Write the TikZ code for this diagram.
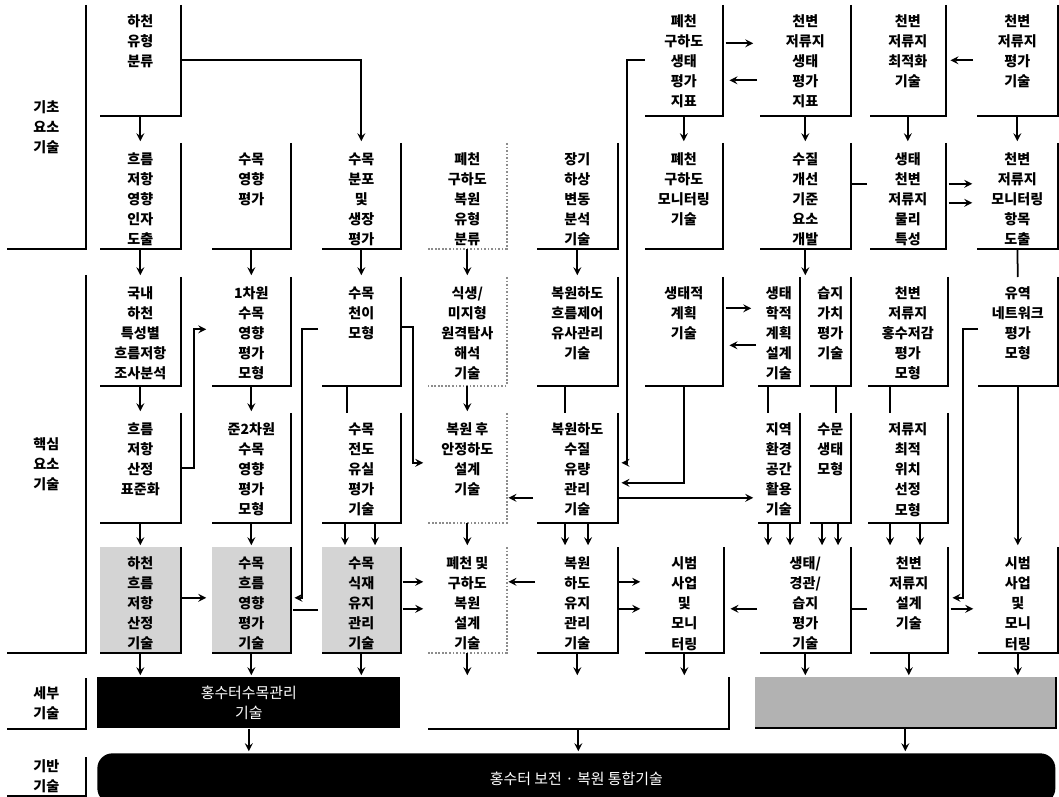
\documentclass[tikz,border=0pt]{standalone}
\usepackage{fontspec}
\newfontfamily\kfont{Noto Sans CJK KR}
\usetikzlibrary{calc}
\newlength{\pxu}\setlength{\pxu}{0.02cm}
% top aligned text in a fixed box (sizes in pixels)
\newcommand{\cell}[3]{\parbox[t][#2\pxu][t]{#1\pxu}{\centering\vspace*{5.5pt}#3}}

\begin{document}
\begin{tikzpicture}[x=0.02cm, y=-0.02cm, >=stealth,
  box/.style={inner sep=0pt, anchor=north west, font=\kfont\bfseries\fontsize{8}{11.4}\selectfont},
  lab/.style={inner sep=0pt, anchor=north west, align=center, font=\kfont\bfseries\fontsize{8}{11.4}\selectfont},
  dark/.style={inner sep=0pt, anchor=north west, align=center, fill=black, text=white, font=\kfont\fontsize{8.5}{11.4}\selectfont},
  tint/.style={fill=black!17},
  edge/.style={line width=1.1pt},
  faint/.style={line width=1pt, black!45, densely dotted},
  arr/.style={->, line width=1pt, shorten >=1pt},
  ln/.style={line width=1pt}]
  \useasboundingbox (0,0) rectangle (1059,797);

  % level labels
  \node[lab, minimum width=78\pxu, minimum height=243\pxu] (lab1) at (7,5) {기초\\요소\\기술};
  \node[lab, minimum width=78\pxu, minimum height=377\pxu] (lab2) at (7,275) {핵심\\요소\\기술};
  \node[lab, minimum width=78\pxu, minimum height=50\pxu] (lab3) at (7,678) {세부\\기술};
  \node[lab, minimum width=78\pxu, minimum height=38\pxu] (lab4) at (7,757) {기반\\기술};

  % row 0
  \node[box] (r0c1) at (100,5) {\cell{80}{110}{하천\\유형\\분류}};
  \node[box] (r0c6) at (645,5) {\cell{77}{110}{폐천\\구하도\\생태\\평가\\지표}};
  \node[box] (r0c7) at (760,5) {\cell{90}{110}{천변\\저류지\\생태\\평가\\지표}};
  \node[box] (r0c8) at (870,5) {\cell{75}{110}{천변\\저류지\\최적화\\기술}};
  \node[box] (r0c9) at (977,5) {\cell{80}{110}{천변\\저류지\\평가\\기술}};

  % row 1
  \node[box] (r1c1) at (100,143) {\cell{80}{105}{흐름\\저항\\영향\\인자\\도출}};
  \node[box] (r1c2) at (212,143) {\cell{78}{105}{수목\\영향\\평가}};
  \node[box] (r1c3) at (322,143) {\cell{78}{105}{수목\\분포\\및\\생장\\평가}};
  \node[box] (r1c4) at (428,143) {\cell{78}{105}{폐천\\구하도\\복원\\유형\\분류}};
  \node[box] (r1c5) at (537,143) {\cell{80}{105}{장기\\하상\\변동\\분석\\기술}};
  \node[box] (r1c6) at (645,143) {\cell{77}{105}{폐천\\구하도\\모니터링\\기술}};
  \node[box] (r1c7) at (760,143) {\cell{90}{105}{수질\\개선\\기준\\요소\\개발}};
  \node[box] (r1c8) at (870,143) {\cell{75}{105}{생태\\천변\\저류지\\물리\\특성}};
  \node[box] (r1c9) at (977,143) {\cell{80}{105}{천변\\저류지\\모니터링\\항목\\도출}};

  % row 2
  \node[box] (r2c1) at (100,277) {\cell{80}{108}{국내\\하천\\특성별\\흐름저항\\조사분석}};
  \node[box] (r2c2) at (212,277) {\cell{78}{108}{1차원\\수목\\영향\\평가\\모형}};
  \node[box] (r2c3) at (322,277) {\cell{78}{108}{수목\\천이\\모형}};
  \node[box] (r2c4) at (428,277) {\cell{78}{108}{식생/\\미지형\\원격탐사\\해석\\기술}};
  \node[box] (r2c5) at (537,277) {\cell{80}{108}{복원하도\\흐름제어\\유사관리\\기술}};
  \node[box] (r2c6) at (645,277) {\cell{77}{108}{생태적\\계획\\기술}};
  \node[box] (r2c7a) at (758,277) {\cell{41}{108}{생태\\학적\\계획\\설계\\기술}};
  \node[box] (r2c7b) at (810,277) {\cell{40}{108}{습지\\가치\\평가\\기술}};
  \node[box] (r2c8) at (868,277) {\cell{79}{108}{천변\\저류지\\홍수저감\\평가\\모형}};
  \node[box] (r2c9) at (978,277) {\cell{79}{108}{유역\\네트워크\\평가\\모형}};

  % row 3
  \node[box] (r3c1) at (100,413) {\cell{80}{109}{흐름\\저항\\산정\\표준화}};
  \node[box] (r3c2) at (212,413) {\cell{78}{109}{준2차원\\수목\\영향\\평가\\모형}};
  \node[box] (r3c3) at (322,413) {\cell{78}{109}{수목\\전도\\유실\\평가\\기술}};
  \node[box] (r3c4) at (428,413) {\cell{78}{109}{복원 후\\안정하도\\설계\\기술}};
  \node[box] (r3c5) at (537,413) {\cell{80}{109}{복원하도\\수질\\유량\\관리\\기술}};
  \node[box] (r3c7a) at (758,413) {\cell{41}{109}{지역\\환경\\공간\\활용\\기술}};
  \node[box] (r3c7b) at (810,413) {\cell{40}{109}{수문\\생태\\모형}};
  \node[box] (r3c8) at (868,413) {\cell{79}{109}{저류지\\최적\\위치\\선정\\모형}};

  % row 4
  \node[box, tint] (r4c1) at (100,547) {\cell{80}{105}{하천\\흐름\\저항\\산정\\기술}};
  \node[box, tint] (r4c2) at (212,547) {\cell{78}{105}{수목\\흐름\\영향\\평가\\기술}};
  \node[box, tint] (r4c3) at (322,547) {\cell{78}{105}{수목\\식재\\유지\\관리\\기술}};
  \node[box] (r4c4) at (428,547) {\cell{78}{105}{폐천 및\\구하도\\복원\\설계\\기술}};
  \node[box] (r4c5) at (537,547) {\cell{80}{105}{복원\\하도\\유지\\관리\\기술}};
  \node[box] (r4c6) at (645,547) {\cell{78}{105}{시범\\사업\\및\\모니\\터링}};
  \node[box] (r4c7) at (760,547) {\cell{90}{105}{생태/\\경관/\\습지\\평가\\기술}};
  \node[box] (r4c8) at (870,547) {\cell{77}{105}{천변\\저류지\\설계\\기술}};
  \node[box] (r4c9) at (978,547) {\cell{79}{105}{시범\\사업\\및\\모니\\터링}};

  % detail and base
  \node[dark, minimum width=303\pxu, minimum height=51\pxu] (r5a) at (97,677) {홍수터수목관리\\기술};
  \node[lab, minimum width=300\pxu, minimum height=51\pxu] (r5b) at (428,677) {};
  \node[lab, fill=black!30, minimum width=300\pxu, minimum height=50\pxu] (r5c) at (755,677) {};
  \node[dark, rounded corners=0.3cm, minimum width=958\pxu, minimum height=50\pxu] (base) at (97,753) {홍수터 보전 · 복원 통합기술};

  % open box edges
  \foreach \n in {lab1,lab2,lab3,lab4,r0c1,r0c6,r0c7,r0c8,r0c9,
      r1c1,r1c2,r1c3,r1c5,r1c6,r1c7,r1c8,r1c9,
      r2c1,r2c2,r2c3,r2c5,r2c6,r2c7a,r2c7b,r2c8,r2c9,
      r3c1,r3c2,r3c3,r3c5,r3c7a,r3c7b,r3c8,
      r4c1,r4c2,r4c3,r4c5,r4c6,r4c7,r4c8,r4c9,r5b,r5c}
    \draw[edge] (\n.north east) -- (\n.south east) -- (\n.south west);
  \foreach \n in {r1c4,r2c4,r3c4,r4c4}
    \draw[faint] (\n.north east) -- (\n.south east) -- (\n.south west);

  % row 0 links
  \draw[arr] (r0c1.south) -- (r1c1.north);
  \draw[arr] (r0c1.east) -| (r1c3.north);
  \draw[arr] ($(r0c6.east)+(3,-17)$) -- ($(r0c7.west)+(-5,-17)$);
  \draw[arr] ($(r0c7.west)+(-3,20)$) -- ($(r0c6.east)+(5,20)$);
  \draw[arr] ($(r0c9.west)+(-4,0)$) -- ($(r0c8.east)+(3,0)$);
  \foreach \c in {c6,c7,c8,c9}
    \draw[arr] (r0\c.south) -- (r1\c.north);
  \draw[arr] (r0c6.west) -- ++(-18,0) |- ($(r3c5.east)+(2,-5)$);

  % row 1 links
  \draw[arr] ($(r1c8.east)+(3,-12)$) -- ($(r1c9.west)+(-3,-12)$);
  \draw[arr] ($(r1c8.east)+(3,7)$) -- ($(r1c9.west)+(-3,7)$);
  \draw[ln] ($(r1c8.west)+(-3,-12)$) -- ($(r1c7.east)+(0,-12)$);
  \foreach \c in {c1,c2,c3,c4,c5}
    \draw[arr] (r1\c.south) -- (r2\c.north);
  \draw[arr] (r1c7.south) -- (r1c7.south |- r2c7a.north);
  \draw[ln] (r1c9.south) -- (r2c9.north);

  % row 2 links
  \foreach \c in {c1,c2,c4}
    \draw[arr] (r2\c.south) -- (r3\c.north);
  \draw[ln] ($(r2c3.south west)+(25,0)$) -- ($(r3c3.north west)+(25,0)$);
  \draw[ln] ($(r2c5.south west)+(28,0)$) -- ($(r3c5.north west)+(28,0)$);
  \draw[ln] ($(r2c7a.south west)+(10,0)$) -- ($(r3c7a.north west)+(10,0)$);
  \draw[ln] ($(r2c7b.south west)+(26,0)$) -- ($(r3c7b.north west)+(26,0)$);
  \draw[ln] ($(r2c8.south west)+(22,0)$) -- ($(r3c8.north west)+(22,0)$);
  \draw[arr] (r3c1.east) -- ++(13,0) |- ($(r2c2.west)+(-4,-2)$);
  \draw[arr] ($(r2c3.east)+(0,-4)$) -- ++(12,0) |- ($(r3c4.west)+(-3,-5)$);
  \draw[arr] ($(r2c3.west)+(-4,-2)$) -- ++(-16,0) |- ($(r4c2.east)+(2,-2)$);
  \draw[arr] ($(r2c6.east)+(3,-23)$) -- ($(r2c7a.west)+(-5,-23)$);
  \draw[arr] ($(r2c7a.west)+(-2,14)$) -- ($(r2c6.east)+(5,14)$);
  \draw[arr] (r2c6.south) |- ($(r3c5.east)+(2,15)$);
  \draw[arr] ($(r2c9.west)+(0,-2)$) -- ++(-15,0) |- ($(r4c8.east)+(3,-2)$);
  \draw[arr] (r2c9.south) -- (r4c9.north);

  % row 3 links
  \draw[arr] ($(r3c5.east)+(0,30)$) -- ($(r3c7a.west)+(-3,30)$);
  \draw[arr] ($(r3c5.west)+(-4,30)$) -- ($(r3c4.east)+(0,30)$);
  \foreach \c in {c1,c2,c4}
    \draw[arr] (r3\c.south) -- (r4\c.north);
  \foreach \d in {23,53}
    \draw[arr] ($(r3c3.south west)+(\d,0)$) -- ($(r4c3.north west)+(\d,0)$);
  \foreach \d in {28,51}
    \draw[arr] ($(r3c5.south west)+(\d,0)$) -- ($(r4c5.north west)+(\d,0)$);
  \draw[arr] ($(r3c7a.south west)+(10,0)$) -- ($(r4c7.north west)+(8,0)$);
  \draw[arr] ($(r3c7a.south west)+(32,0)$) -- ($(r4c7.north west)+(30,0)$);
  \draw[arr] ($(r3c7b.south west)+(12,0)$) -- ($(r4c7.north west)+(62,0)$);
  \draw[arr] ($(r3c7b.south west)+(28,0)$) -- ($(r4c7.north west)+(78,0)$);
  \draw[arr] ($(r3c8.south west)+(22,0)$) -- ($(r4c8.north west)+(20,0)$);
  \draw[arr] ($(r3c8.south west)+(52,0)$) -- ($(r4c8.north west)+(50,0)$);

  % row 4 links
  \draw[arr] ($(r4c1.east)+(0,-2)$) -- ($(r4c2.west)+(-4,-2)$);
  \draw[ln] ($(r4c3.west)+(-4,10)$) -- ($(r4c2.east)+(2,10)$);
  \foreach \d in {-18,9}
    \draw[arr] ($(r4c3.east)+(2,\d)$) -- ($(r4c4.west)+(-3,\d)$);
  \draw[arr] ($(r4c5.west)+(-2,-18)$) -- ($(r4c4.east)+(0,-18)$);
  \foreach \d in {-18,9}
    \draw[arr] ($(r4c5.east)+(0,\d)$) -- ($(r4c6.west)+(-3,\d)$);
  \draw[arr] ($(r4c7.west)+(-3,9)$) -- ($(r4c6.east)+(5,9)$);
  \draw[ln] ($(r4c7.east)+(0,9)$) -- ($(r4c8.west)+(-3,9)$);
  \draw[arr] ($(r4c8.east)+(3,9)$) -- ($(r4c9.west)+(-3,9)$);
  \foreach \c in {c1,c2,c3}
    \draw[arr] (r4\c.south) -- (r4\c.south |- r5a.north);
  \foreach \c in {c4,c5,c6}
    \draw[arr] (r4\c.south) -- (r4\c.south |- r5b.north);
  \foreach \c in {c7,c8,c9}
    \draw[arr] (r4\c.south) -- (r4\c.south |- r5c.north);
  \foreach \n in {r5a,r5b,r5c}
    \draw[arr] (\n.south) -- (\n.south |- base.north);
\end{tikzpicture}
\end{document}
